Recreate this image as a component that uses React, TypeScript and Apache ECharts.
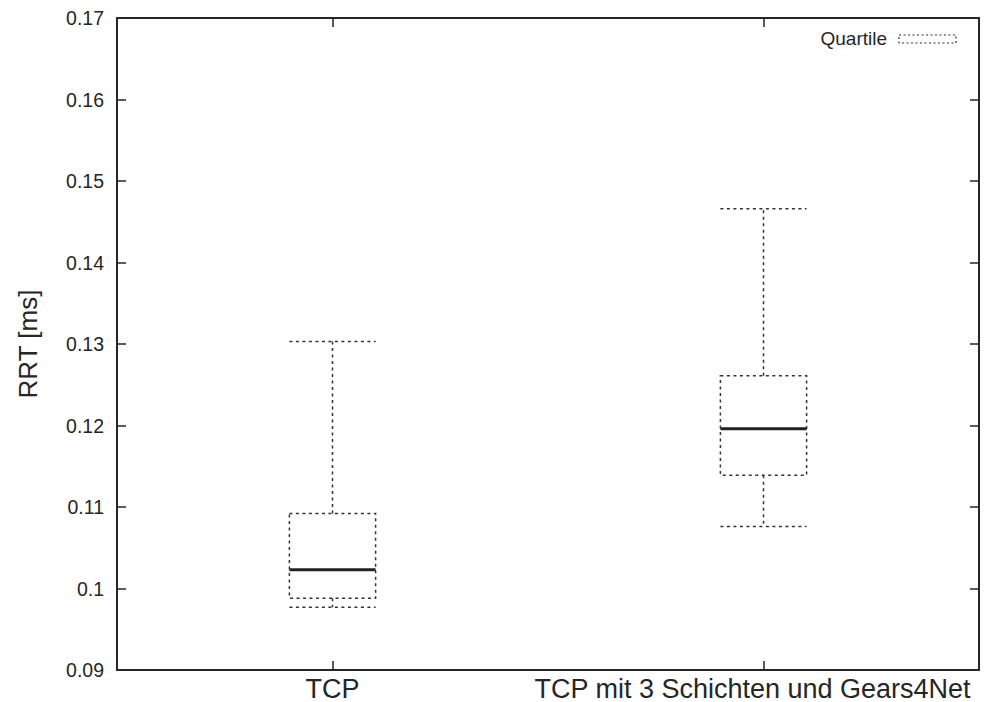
import React, { useEffect, useRef } from "react";
import * as echarts from "echarts";

const categories = ["TCP", "TCP mit 3 Schichten und Gears4Net"];
const whiskerMin = [0.0977, 0.1076];
const quartile1 = [0.0988, 0.1139];
const medians = [0.1023, 0.1196];
const quartile3 = [0.1092, 0.1261];
const whiskerMax = [0.1303, 0.1466];
const yTicks = { min: 0.09, max: 0.17, step: 0.01 };
const legendLabel = "Quartile";
const yAxisTitle = "RRT [ms]";

const FONT = "'Liberation Sans', Arial, sans-serif";
const INK = "#262626";
const DOT = [3, 3.5];

export default function App() {
  const ref = useRef<HTMLDivElement>(null);
  useEffect(() => {
    if (!ref.current) return;
    const chart = echarts.init(ref.current, null, { renderer: "svg" });
    const data = categories.map((_, i) => [
      i,
      whiskerMin[i],
      quartile1[i],
      medians[i],
      quartile3[i],
      whiskerMax[i],
    ]);
    const fmt = (v: number) => String(parseFloat(v.toFixed(2)));
    const yCommon = {
      type: "value",
      min: yTicks.min,
      max: yTicks.max,
      interval: yTicks.step,
      splitLine: { show: false },
      axisLine: { show: true, lineStyle: { color: INK, width: 2 } },
      axisTick: { show: true, inside: true, length: 9, lineStyle: { color: INK, width: 1.5 } },
    };
    const xCommon = {
      type: "category",
      data: categories,
      boundaryGap: true,
      splitLine: { show: false },
      axisLine: { show: true, lineStyle: { color: INK, width: 2 } },
      axisTick: { show: true, inside: true, length: 9, alignWithLabel: true, interval: 0, lineStyle: { color: INK, width: 1.5 } },
    };
    chart.setOption({
      animation: false,
      backgroundColor: "#ffffff",
      grid: { left: 117, right: 19, top: 18, bottom: 32, containLabel: false },
      xAxis: [
        {
          ...xCommon,
          position: "bottom",
          axisLabel: {
            show: true,
            interval: 0,
            hideOverlap: false,
            color: INK,
            fontFamily: FONT,
            fontSize: 27,
            margin: 5,
            formatter: (v: string, i: number) => (i === categories.length - 1 ? `{last|${v}}` : `{n|${v}}`),
            rich: {
              n: { color: INK, fontFamily: FONT, fontSize: 27 },
              last: { color: INK, fontFamily: FONT, fontSize: 27, padding: [0, 22, 0, 0] },
            },
          },
        },
        { ...xCommon, position: "top", axisLabel: { show: false } },
      ],
      yAxis: [
        {
          ...yCommon,
          position: "left",
          name: yAxisTitle,
          nameLocation: "middle",
          nameGap: 76,
          nameRotate: 90,
          nameTextStyle: { color: INK, fontFamily: FONT, fontSize: 26 },
          axisLabel: { show: true, color: INK, fontFamily: FONT, fontSize: 19.5, margin: 13, formatter: fmt },
        },
        { ...yCommon, position: "right", axisLabel: { show: false } },
      ],
      series: [
        {
          type: "custom",
          xAxisIndex: 0,
          yAxisIndex: 0,
          data,
          renderItem: (params: any, api: any) => {
            const xi = api.value(0);
            const cx = api.coord([xi, api.value(3)])[0];
            const bw = api.size([1, 0])[0] * 0.2;
            const xl = cx - bw / 2;
            const xr = cx + bw / 2;
            const y = (k: number) => api.coord([xi, api.value(k)])[1];
            const yMin = y(1), yQ1 = y(2), yMed = y(3), yQ3 = y(4), yMax = y(5);
            const dotted = { stroke: "#333333", lineWidth: 1.5, lineDash: DOT, fill: null };
            return {
              type: "group",
              children: [
                { type: "rect", shape: { x: xl, y: yQ3, width: bw, height: yQ1 - yQ3 }, style: { ...dotted, fill: "none" } },
                { type: "line", shape: { x1: cx, y1: yQ3, x2: cx, y2: yMax }, style: dotted },
                { type: "line", shape: { x1: xl, y1: yMax, x2: xr, y2: yMax }, style: dotted },
                { type: "line", shape: { x1: cx, y1: yQ1, x2: cx, y2: yMin }, style: dotted },
                { type: "line", shape: { x1: xl, y1: yMin, x2: xr, y2: yMin }, style: dotted },
                { type: "line", shape: { x1: xl, y1: yMed, x2: xr, y2: yMed }, style: { stroke: "#222222", lineWidth: 3 } },
              ],
            };
          },
        },
      ],
      graphic: [
        {
          type: "text",
          right: 998 - 887,
          top: 29,
          style: { text: legendLabel, fill: INK, font: `19px ${FONT}` },
        },
        {
          type: "rect",
          shape: { x: 899, y: 35, width: 57, height: 8 },
          style: { fill: "none", stroke: "#333333", lineWidth: 1.2, lineDash: [2, 2.5] },
        },
      ],
    });
    return () => chart.dispose();
  }, []);
  return <div ref={ref} style={{ width: 998, height: 702, position: "fixed", left: 0, top: 0 }} />;
}
